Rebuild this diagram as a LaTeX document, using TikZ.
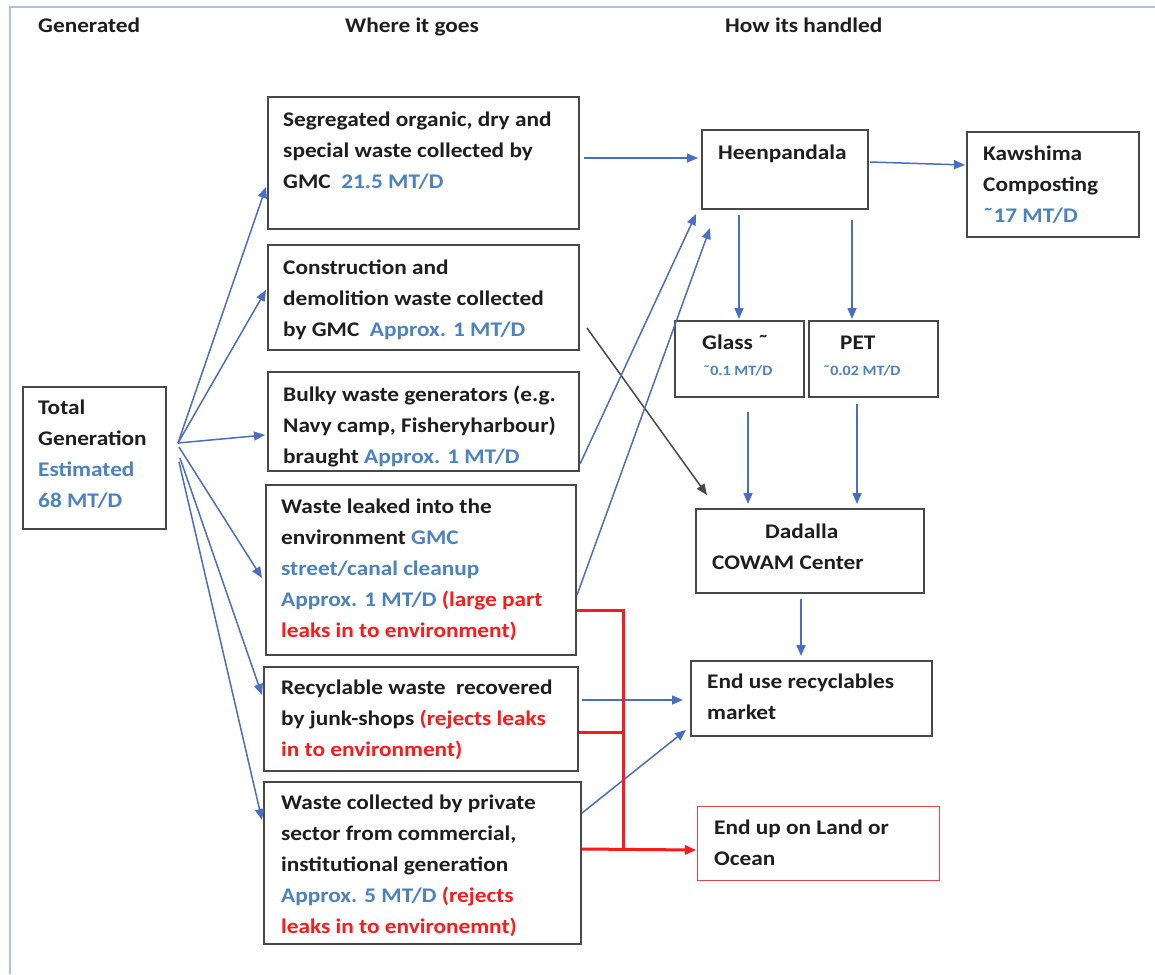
\documentclass[tikz,border=0pt]{standalone}
\usepackage{fontspec}
\setmainfont{Carlito}[FakeStretch=1.12]
\usetikzlibrary{arrows.meta,calc}
\definecolor{boxgray}{HTML}{484848}
\definecolor{tblue}{HTML}{4A82C4}
\definecolor{ablue}{HTML}{4A6EC4}
\definecolor{lred}{HTML}{FF1A1A}
\definecolor{landred}{HTML}{E04848}
\definecolor{framecol}{HTML}{A9C3DF}
\definecolor{tblack}{HTML}{1E1E1E}
\newcommand{\mlines}[1]{\begin{tabular}[t]{@{}l@{}}#1\end{tabular}}
\newcommand{\bl}[1]{\textcolor{tblue}{#1}}
\newcommand{\rd}[1]{\textcolor{lred}{#1}}
\begin{document}
\begin{tikzpicture}[x=1pt,y=-1pt,
  box/.style={draw=boxgray, line width=2pt, anchor=north west, inner sep=0pt},
  landbox/.style={draw=landred, line width=1.3pt, anchor=north west, inner sep=0pt},
  txt/.style={anchor=base west, inner sep=0pt, font=\fontsize{20.8}{31}\selectfont\bfseries, text=tblack},
  smalltxt/.style={anchor=base west, inner sep=0pt, font=\fontsize{14.3}{16}\selectfont\bfseries, text=tblue},
  barrow/.style={draw=ablue, line width=1.5pt, -{Triangle[length=11pt,width=9pt]}},
  garrow/.style={draw=boxgray, line width=1.5pt, -{Triangle[length=11pt,width=9pt]}},
  redline/.style={draw=lred, line width=3pt},
  redarrow/.style={draw=lred, line width=3pt, -{Triangle[length=11pt,width=9pt]}}]
\fill[white] (0,0) rectangle (1155,974);
\useasboundingbox (0,0) rectangle (1155,974);
\draw[framecol, line width=2pt] (10,974) -- (10,7) -- (1155,7);

% headers
\node[txt] (hg) at (38,33) {Generated};
\node[txt] (hw) at (345,33) {Where it goes};
\node[txt] (hh) at (725,33) {How its handled};

% boxes
\node[box, minimum width=143pt, minimum height=142pt] (tg) at (22,386) {};
\node[box, minimum width=311pt, minimum height=132pt] (b1) at (267,96) {};
\node[box, minimum width=311pt, minimum height=105pt] (b2) at (267,244) {};
\node[box, minimum width=311pt, minimum height=99pt] (b3) at (267,371) {};
\node[box, minimum width=310pt, minimum height=170pt] (b4) at (265,484) {};
\node[box, minimum width=314pt, minimum height=104pt] (b5) at (263,666) {};
\node[box, minimum width=317pt, minimum height=162pt] (b6) at (263,781) {};
\node[box, minimum width=166pt, minimum height=79pt] (hp) at (701,129) {};
\node[box, minimum width=172pt, minimum height=105pt] (kw) at (966,131) {};
\node[box, minimum width=129pt, minimum height=76pt] (gl) at (674,320) {};
\node[box, minimum width=129pt, minimum height=76pt] (pet) at (808,320) {};
\node[box, minimum width=228pt, minimum height=84pt] (dd) at (695,508) {};
\node[box, minimum width=241pt, minimum height=75pt] (eu) at (690,660) {};
\node[landbox, minimum width=242pt, minimum height=74pt] (land) at (697,806) {};

% texts
\node[txt] (tgt) at (38,414) {\mlines{Total\\Generation\\\bl{Estimated}\\\bl{68 MT/D}}};
\node[txt] (b1t) at (283,126) {\mlines{Segregated organic, dry and\\special waste collected by\\GMC~~\bl{21.5 MT/D}}};
\node[txt] (b2t) at (283,274) {\mlines{Construction and\\demolition waste collected\\by GMC~~\bl{Approx. 1 MT/D}}};
\node[txt] (b3t) at (283,401) {\mlines{Bulky waste generators (e.g.\\Navy camp, Fisheryharbour)\\braught \bl{Approx. 1 MT/D}}};
\node[txt] (b4t) at (281,513) {\mlines{Waste leaked into the\\environment \bl{GMC}\\\bl{street/canal cleanup}\\\bl{Approx. 1 MT/D} \rd{(large part}\\\rd{leaks in to environment)}}};
\node[txt] (b5t) at (281,694) {\mlines{Recyclable waste~ recovered\\by junk-shops \rd{(rejects leaks}\\\rd{in to environment)}}};
\node[txt] (b6t) at (281,809) {\mlines{Waste collected by private\\sector from commercial,\\institutional generation\\\bl{Approx. 5 MT/D} \rd{(rejects}\\\rd{leaks in to environemnt)}}};
\node[txt] (hpt) at (718,159) {Heenpandala};
\node[txt] (kwt) at (983,160) {\mlines{Kawshima\\Composting\\\bl{˜17 MT/D}}};
\node[txt] (glt) at (702,349) {Glass ˜};
\node[smalltxt] (glv) at (703,375) {˜0.1 MT/D};
\node[txt] (pett) at (840,349) {PET};
\node[smalltxt] (petv) at (823,375) {˜0.02 MT/D};
\node[txt] (ddt) at (712,538) {\mlines{\hspace*{53pt}Dadalla\\COWAM Center}};
\node[txt] (eut) at (707,688) {\mlines{End use recyclables\\market}};
\node[txt] (landt) at (714,834) {\mlines{End up on Land or\\Ocean}};

% arrows from total generation
\draw[barrow] ($(tg.north east)+(11,57)$) -- ($(b1.south west)+(-1,-43)$);
\draw[barrow] ($(tg.north east)+(11,57)$) -- ($(b2.north west)+(-1,46)$);
\draw[barrow] ($(tg.north east)+(11,57)$) -- ($(b3.north west)+(-2,64)$);
\draw[barrow] ($(tg.north east)+(12,61)$) -- ($(b4.north west)+(-3,94)$);
\draw[barrow] ($(tg.north east)+(13,72)$) -- ($(b5.north west)+(-1,29)$);
\draw[barrow] ($(tg.north east)+(12,76)$) -- ($(b6.north west)+(-1,39)$);

% middle to right
\draw[barrow] ($(b1.north east)+(4,62)$) -- ($(hp.north west)+(-3,29)$);
\draw[barrow] ($(hp.north east)+(1,33)$) -- ($(kw.north west)+(-1,34)$);
\draw[barrow] ($(hp.south west)+(38,5)$) -- ($(gl.north west)+(65,-1)$);
\draw[barrow] ($(hp.south west)+(151,10)$) -- ($(pet.north west)+(44,-1)$);
\draw[barrow] ($(gl.south west)+(74,14)$) -- ($(dd.north west)+(53,-4)$);
\draw[barrow] ($(pet.south west)+(49,6)$) -- ($(dd.north west)+(162,-4)$);
\draw[barrow] ($(dd.south west)+(106,5)$) -- ($(eu.north west)+(111,-4)$);
\draw[garrow] ($(b2.north east)+(7,84)$) -- ($(dd.north west)+(12,-13)$);
\draw[barrow] ($(b3.south east)+(0,-8)$) -- ($(hp.south west)+(-5,4)$);
\draw[barrow] ($(b4.north east)+(0,111)$) -- ($(hp.south west)+(9,18)$);
\draw[barrow] ($(b5.north east)+(3,34)$) -- ($(eu.north west)+(-7,40)$);
\draw[barrow] ($(b6.north east)+(0,32)$) -- ($(eu.south west)+(-4,-7)$);

% red leak lines
\coordinate (rj) at ($(b4.north east)+(46,366)$);
\draw[redline] ($(b4.north east)+(0,126)$) -| (rj);
\draw[redline] ($(b5.north east)+(0,66)$) -- ($(b5.north east)+(44,66)$);
\draw[redarrow] ($(b6.north east)+(0,68)$) -- ($(land.north west)+(-1,44)$);
\end{tikzpicture}
\end{document}
